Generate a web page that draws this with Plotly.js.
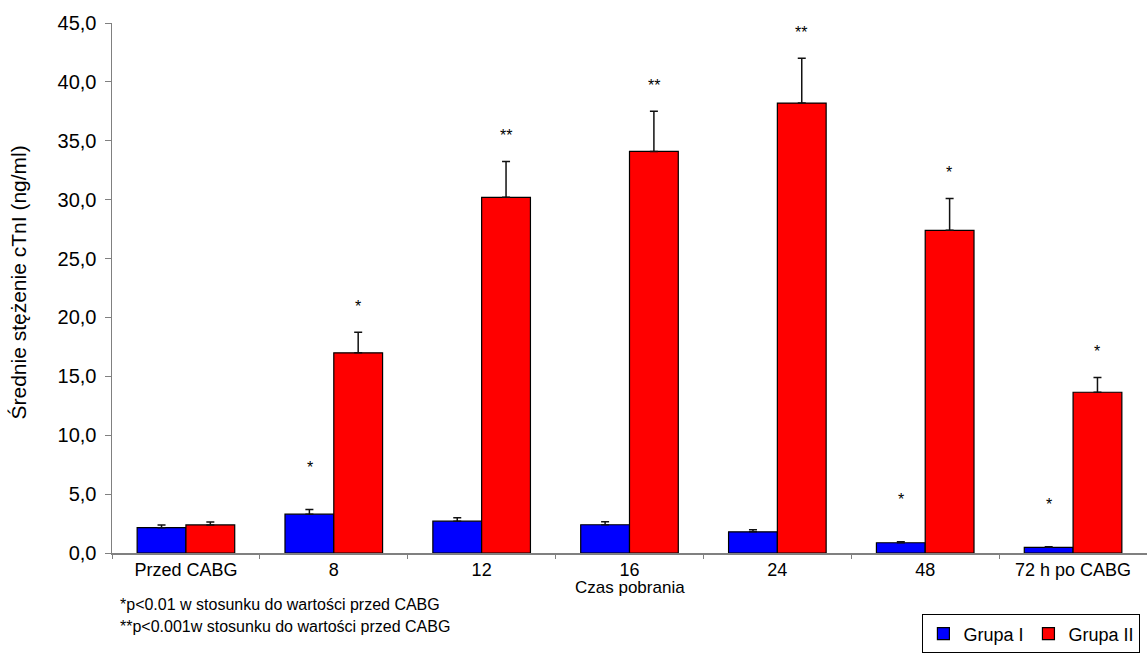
<!DOCTYPE html>
<html>
<head>
<meta charset="utf-8">
<script src="https://cdn.plot.ly/plotly-3.0.1.min.js"></script>
<style>
  html, body { margin: 0; padding: 0; background: #fff; }
  #chart { width: 1147px; height: 661px; }
</style>
</head>
<body>
<div id="chart"></div>
<script>
// Mean cTnI concentration by sampling time, two patient groups
var categories = ['Przed CABG', '8', '12', '16', '24', '48', '72 h po CABG'];

var grupaI     = [2.15, 3.3, 2.7, 2.4, 1.8, 0.87, 0.48];
var grupaIErr  = [0.23, 0.4, 0.3, 0.25, 0.17, 0.08, 0.06];
var grupaII    = [2.38, 17.0, 30.2, 34.1, 38.2, 27.4, 13.65];
var grupaIIErr = [0.25, 1.75, 3.05, 3.4, 3.8, 2.7, 1.25];

// significance markers versus the pre-CABG value
var markI  = ['', '*', '', '', '', '*', '*'];
var markII = ['', '*', '**', '**', '**', '*', '*'];

var yTicks = [0, 5, 10, 15, 20, 25, 30, 35, 40, 45];

var FONT = 'Liberation Sans, Arial, sans-serif';
var zeros = categories.map(function () { return 0; });

var traces = [
  {
    type: 'bar', name: 'Grupa I', x: categories, y: grupaI,
    marker: { color: '#0000ff', line: { color: '#000000', width: 1.2 } },
    error_y: { type: 'data', array: grupaIErr, arrayminus: zeros, symmetric: false,
               color: '#111111', thickness: 1.5, width: 4 }
  },
  {
    type: 'bar', name: 'Grupa II', x: categories, y: grupaII,
    marker: { color: '#ff0000', line: { color: '#000000', width: 1.2 } },
    error_y: { type: 'data', array: grupaIIErr, arrayminus: zeros, symmetric: false,
               color: '#111111', thickness: 1.5, width: 4 }
  }
];

var annotations = [];
// stars sit above each error bar; x uses the category index on the category axis
function addMarks(marks, vals, errs, dx, dy) {
  for (var i = 0; i < categories.length; i++) {
    if (!marks[i]) continue;
    annotations.push({
      x: i, y: vals[i] + errs[i], xref: 'x', yref: 'y',
      text: marks[i], showarrow: false, xshift: dx, yshift: dy,
      xanchor: 'center', yanchor: 'middle',
      font: { family: FONT, size: 16, color: '#000' }
    });
  }
}
addMarks(markI, grupaI, grupaIErr, -24, 42);
addMarks(markII, grupaII, grupaIIErr, 24, 26);

// y-axis title
annotations.push({
  xref: 'paper', yref: 'paper', x: -0.09, y: 0.51,
  text: 'Średnie stężenie cTnI (ng/ml)', textangle: -90, showarrow: false,
  xanchor: 'center', yanchor: 'middle',
  font: { family: FONT, size: 21, color: '#000' }
});
// x-axis title
annotations.push({
  xref: 'paper', yref: 'paper', x: 0.5, y: -0.066,
  text: 'Czas pobrania', showarrow: false,
  xanchor: 'center', yanchor: 'middle',
  font: { family: FONT, size: 17, color: '#000' }
});
// footnotes
annotations.push({
  xref: 'paper', yref: 'paper', x: 0.006, y: -0.097,
  text: '*p<0.01 w stosunku do wartości przed CABG', showarrow: false,
  xanchor: 'left', yanchor: 'middle',
  font: { family: FONT, size: 16, color: '#000' }
});
annotations.push({
  xref: 'paper', yref: 'paper', x: 0.006, y: -0.139,
  text: '**p<0.001w stosunku do wartości przed CABG', showarrow: false,
  xanchor: 'left', yanchor: 'middle',
  font: { family: FONT, size: 16, color: '#000' }
});

var layout = {
  width: 1147, height: 661,
  margin: { l: 112, r: 0, t: 23, b: 108 },
  paper_bgcolor: '#ffffff', plot_bgcolor: '#ffffff',
  separators: ', ',
  font: { family: FONT, size: 17, color: '#000' },
  barmode: 'group', bargap: 0.34, bargroupgap: 0,
  showlegend: true,
  legend: {
    orientation: 'h', x: 0.783, y: -0.116, xanchor: 'left', yanchor: 'top',
    bordercolor: '#000000', borderwidth: 1, bgcolor: '#ffffff',
    font: { family: FONT, size: 18, color: '#000' },
    traceorder: 'normal', itemwidth: 30
  },
  xaxis: {
    type: 'category', range: [-0.5, categories.length - 0.5],
    showline: true, linecolor: '#808080', linewidth: 1.5,
    ticks: 'outside', tickson: 'boundaries', ticklen: 4, tickcolor: '#808080',
    showgrid: false, zeroline: false, fixedrange: true, tickangle: 0,
    tickfont: { family: FONT, size: 18, color: '#000' }
  },
  yaxis: {
    range: [0, 45], tickvals: yTicks, tickformat: '.1f',
    showline: true, linecolor: '#808080', linewidth: 1.5,
    ticks: 'outside', ticklen: 6, tickcolor: '#808080', ticklabelstandoff: 4,
    showgrid: false, zeroline: false, fixedrange: true,
    tickfont: { family: FONT, size: 20, color: '#000' }
  },
  annotations: annotations
};

Plotly.newPlot('chart', traces, layout, { displayModeBar: false, staticPlot: true });
</script>
</body>
</html>
